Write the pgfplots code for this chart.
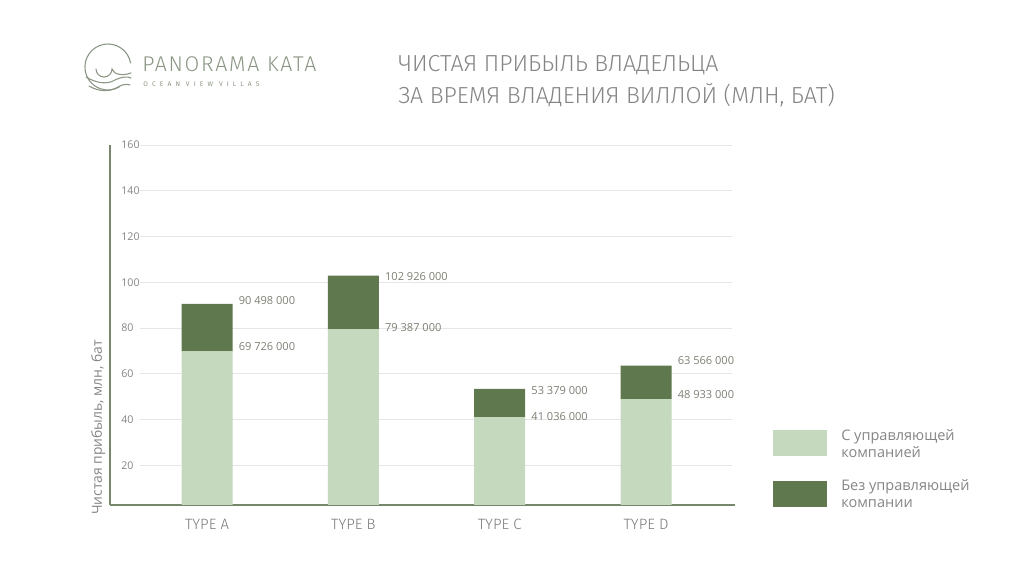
\documentclass[border=0pt]{standalone}
\usepackage{fontspec}
\setmainfont{Open Sans}
\newfontfamily\titlefont{Fira Sans Light}
\newfontfamily\logofont[LetterSpace=8]{Fira Sans Light}
\newfontfamily\logosub[LetterSpace=62]{Fira Sans}
\usepackage{pgfplots}
\pgfplotsset{compat=1.18}
\definecolor{light}{HTML}{C4D9BD}
\definecolor{dark}{HTML}{60784D}
\definecolor{txt}{HTML}{858585}
\definecolor{numc}{HTML}{7D8074}
\definecolor{axisc}{HTML}{76876C}
\definecolor{gridc}{HTML}{E6E6E6}
\definecolor{logoc}{HTML}{8A9583}
\tikzset{numlab/.style={anchor=west, inner sep=0, text=numc, font=\fontsize{8.3}{9}\selectfont}}
\begin{document}
\begin{tikzpicture}
\begin{scope}[x=0.75pt,y=0.75pt]
\path[use as bounding box] (0,0) rectangle (1024,563);
% grid
\foreach \g in {465.25,419.5,373.75,328,282.25,236.5,190.75,145}{
  \draw[gridc, line width=0.6pt] (140,563-\g) -- (732,563-\g);
}
% logo
\begin{scope}[draw=logoc, line width=0.8pt, line cap=round]
\draw (130.6,500) arc[start angle=10, end angle=300, radius=23];
\draw (96,494) arc[start angle=180, end angle=360, radius=8] .. controls (114,488) and (123,487) .. (131,490);
\draw (86,486) .. controls (96,480) and (107,478) .. (115,483) .. controls (121,486) and (127,487) .. (131,485);
\draw (89,477) .. controls (99,471) and (110,471) .. (118,476) .. controls (123,479) and (127,479) .. (130,478);
\end{scope}
\node[anchor=base west, inner sep=0, text=logoc, font=\logofont\fontsize{16}{18}\selectfont] at (142,563-72) {PANORAMA KATA};
\node[anchor=base west, inner sep=0, text=logoc, font=\logosub\fontsize{5}{6}\selectfont] at (143,563-87) {OCEAN VIEW VILLAS};
% title
\node[anchor=base west, inner sep=0, text=txt, font=\titlefont\fontsize{17.4}{20}\selectfont] at (398,563-72) {ЧИСТАЯ ПРИБЫЛЬ ВЛАДЕЛЬЦА};
\node[anchor=base west, inner sep=0, text=txt, font=\titlefont\fontsize{17.4}{20}\selectfont] at (398,563-104) {ЗА ВРЕМЯ ВЛАДЕНИЯ ВИЛЛОЙ (МЛН, БАТ)};
% legend
\fill[light] (773,563-456) rectangle (827,563-430);
\fill[dark] (773,563-507) rectangle (827,563-481);
\node[anchor=base west, inner sep=0, text=txt, font=\fontsize{10.9}{12}\selectfont] at (841,563-441) {С управляющей};
\node[anchor=base west, inner sep=0, text=txt, font=\fontsize{10.9}{12}\selectfont] at (841,563-458) {компанией};
\node[anchor=base west, inner sep=0, text=txt, font=\fontsize{10.9}{12}\selectfont] at (841,563-491) {Без управляющей};
\node[anchor=base west, inner sep=0, text=txt, font=\fontsize{10.9}{12}\selectfont] at (841,563-508) {компании};
\end{scope}
\begin{axis}[at={(82.5pt,43.5pt)}, anchor=south west, scale only axis,
  width=468.75pt, height=270pt,
  xmin=-0.663, xmax=3.608, ymin=2.62, ymax=160,
  ybar stacked, bar width=38.25pt,
  axis x line*=bottom, axis y line*=left,
  axis line style={axisc, line width=1.1pt, -},
  xtick={0,1,2,3}, xticklabels={TYPE A,TYPE B,TYPE C,TYPE D},
  xticklabel style={font=\titlefont\fontsize{11.2}{12}\selectfont, text=txt!90!black, yshift=-7pt},
  ytick={20,40,60,80,100,120,140,160},
  /pgf/number format/assume math mode=true,
  yticklabel style={anchor=west, xshift=5pt, font=\fontsize{8}{9}\selectfont, text=txt},
  major tick length=0pt,
  ylabel={Чистая прибыль, млн, бат},
  ylabel style={at={(rel axis cs:0,0)}, anchor=south west, xshift=-11pt, font=\fontsize{10.4}{11}\selectfont, text=txt},
  clip=false,
]
\addplot[fill=light, draw=none] coordinates {(0,69.726) (1,79.387) (2,41.036) (3,48.933)};
\addplot[fill=dark, draw=none] coordinates {(0,20.772) (1,23.539) (2,12.343) (3,14.633)};
\node[numlab] at (axis cs:0.215,91.8) {90 498 000};
\node[numlab] at (axis cs:0.215,72.1) {69 726 000};
\node[numlab] at (axis cs:1.215,102.3) {102 926 000};
\node[numlab] at (axis cs:1.215,80.4) {79 387 000};
\node[numlab] at (axis cs:2.215,52.5) {53 379 000};
\node[numlab] at (axis cs:2.215,41.5) {41 036 000};
\node[numlab] at (axis cs:3.215,65.6) {63 566 000};
\node[numlab] at (axis cs:3.215,51.1) {48 933 000};
\end{axis}
\end{tikzpicture}
\end{document}
